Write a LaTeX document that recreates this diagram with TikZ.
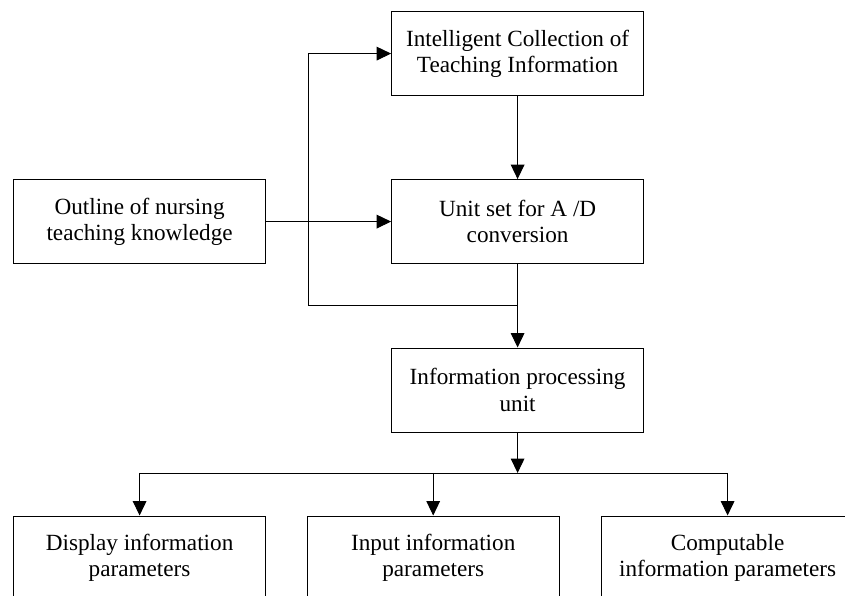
\documentclass[tikz,border=0pt]{standalone}
\usepackage{fontspec}
\setmainfont{Liberation Serif}
\usetikzlibrary{arrows.meta}

\begin{document}
\begin{tikzpicture}[
	unitbox/.style={draw,line width=.7pt,minimum width=6.3cm,minimum height=2.1cm,align=center,font=\fontsize{16.5}{18.6}\selectfont},
	flow/.style={line width=.7pt,-{Triangle[length=3.6mm,width=3.4mm]}},
	line/.style={line width=.7pt}]
	\useasboundingbox (0,0) rectangle (21.125,14.9);
	\clip (0,0) rectangle (21.125,14.9);
	\node[unitbox] (collect) at (12.94,13.56) {Intelligent Collection of\\Teaching Information};
	\node[unitbox] (adunit) at (12.94,9.36) {Unit set for A /D\\conversion};
	\node[unitbox] (outline) at (3.49,9.36) {Outline of nursing\\teaching knowledge};
	\node[unitbox] (process) at (12.94,5.15) {Information processing\\unit};
	\node[unitbox] (display) at (3.49,0.95) {Display information\\parameters};
	\node[unitbox] (input) at (10.83,0.95) {Input information\\parameters};
	\node[unitbox] (compute) at (18.19,0.95) {Computable\\information parameters};
	\coordinate (split) at (7.7,9.36);
	\coordinate (join) at (12.94,7.275);
	\coordinate (bus) at (12.94,3.075);
	\draw[flow] (outline.east) -- (adunit.west);
	\draw[flow] (split) |- (collect.west);
	\draw[line] (split) |- (join);
	\draw[flow] (collect.south) -- (adunit.north);
	\draw[flow] (adunit.south) -- (process.north);
	\draw[flow] (process.south) -- (bus);
	\draw[line] (display.north |- bus) -- (compute.north |- bus);
	\draw[flow] (display.north |- bus) -- (display.north);
	\draw[flow] (input.north |- bus) -- (input.north);
	\draw[flow] (compute.north |- bus) -- (compute.north);
\end{tikzpicture}
\end{document}
